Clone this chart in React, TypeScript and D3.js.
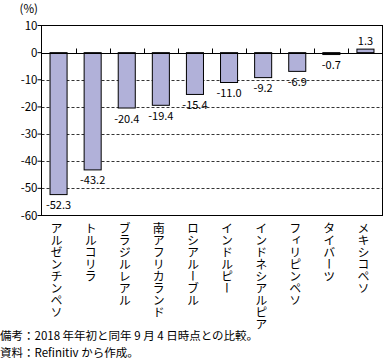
import React from "react";
import * as d3 from "d3";

const categories = ["アルゼンチンペソ", "トルコリラ", "ブラジルレアル", "南アフリカランド", "ロシアルーブル", "インドルピー", "インドネシアルピア", "フィリピンペソ", "タイバーツ", "メキシコペソ"];
const values = [-52.3, -43.2, -20.4, -19.4, -15.4, -11.0, -9.2, -6.9, -0.7, 1.3];
const yTicks = [10, 0, -10, -20, -30, -40, -50, -60];
const gridTicks = [-10, -20, -30, -40, -50];
const unitLabel = "(%)";
const notes = ["備考：2018 年年初と同年 9 月 4 日時点との比較。", "資料：Refinitiv から作成。"];

const W = 391, H = 364;
const left = 41.5, right = 382.5, top = 25.5, bottom = 215.5;
const font = "'Noto Sans CJK JP', 'Noto Sans', sans-serif";

export default function App() {
  const x = d3.scaleBand<string>().domain(categories).range([left, right]).paddingInner(0.5).paddingOuter(0.25);
  const y = d3.scaleLinear().domain([-60, 10]).range([bottom, top]);
  const step = x.step();
  const y0 = Math.round(y(0)) + 0.5;
  return (
    <svg width={W} height={H} style={{ position: "absolute", left: 0, top: 0, display: "block" }} fontFamily={font}>
      <rect width={W} height={H} fill="#fff" />
      {gridTicks.map(t => (
        <line key={t} x1={left} x2={right} y1={Math.round(y(t)) + 0.5} y2={Math.round(y(t)) + 0.5} stroke="#000" strokeWidth={0.8} strokeDasharray="3,2" />
      ))}
      {categories.map((c, i) => {
        const v = values[i];
        const y1 = y(Math.max(0, v)), y2 = y(Math.min(0, v));
        return (
          <rect key={c} x={x(c)!} y={y1} width={x.bandwidth()} height={Math.max(0.5, y2 - y1)} fill="#b1b1d9" stroke="#000" strokeWidth={1} />
        );
      })}
      <line x1={left} x2={right} y1={y0} y2={y0} stroke="#000" strokeWidth={1} />
      {categories.slice(1).map((c, i) => {
        const bx = Math.round(left + step * (i + 1)) + 0.5;
        return <line key={c} x1={bx} x2={bx} y1={y0} y2={y0 - 5} stroke="#000" strokeWidth={1} />;
      })}
      <rect x={left} y={top} width={right - left} height={bottom - top} fill="none" stroke="#000" strokeWidth={1} />
      {yTicks.map(t => (
        <g key={t}>
          <line x1={left - 4} x2={left} y1={y(t)} y2={y(t)} stroke="#000" strokeWidth={1} />
          <text x={left - 4} y={y(t)} dy="0.35em" textAnchor="end" fontSize={11.5} fill="#000">{t}</text>
        </g>
      ))}
      <text x={left - 22} y={13} fontSize={11.5} fill="#000">{unitLabel}</text>
      {categories.map((c, i) => {
        const v = values[i];
        const cx = x(c)! + x.bandwidth() / 2;
        const ty = v < 0 ? y(v) + 14.5 : y(v) - 4;
        return <text key={c} x={cx} y={ty} textAnchor="middle" fontSize={11} fill="#000">{v.toFixed(1)}</text>;
      })}
      {categories.map(c => {
        const cx = x(c)! + x.bandwidth() / 2 - 2;
        return (
          <text key={c} x={cx} y={222} fontSize={12} fill="#000" style={{ writingMode: "vertical-rl" } as any}>{c}</text>
        );
      })}
      {notes.map((n, i) => (
        <text key={n} x={0} y={340 + i * 17} fontSize={11.5} fill="#000">{n}</text>
      ))}
    </svg>
  );
}
